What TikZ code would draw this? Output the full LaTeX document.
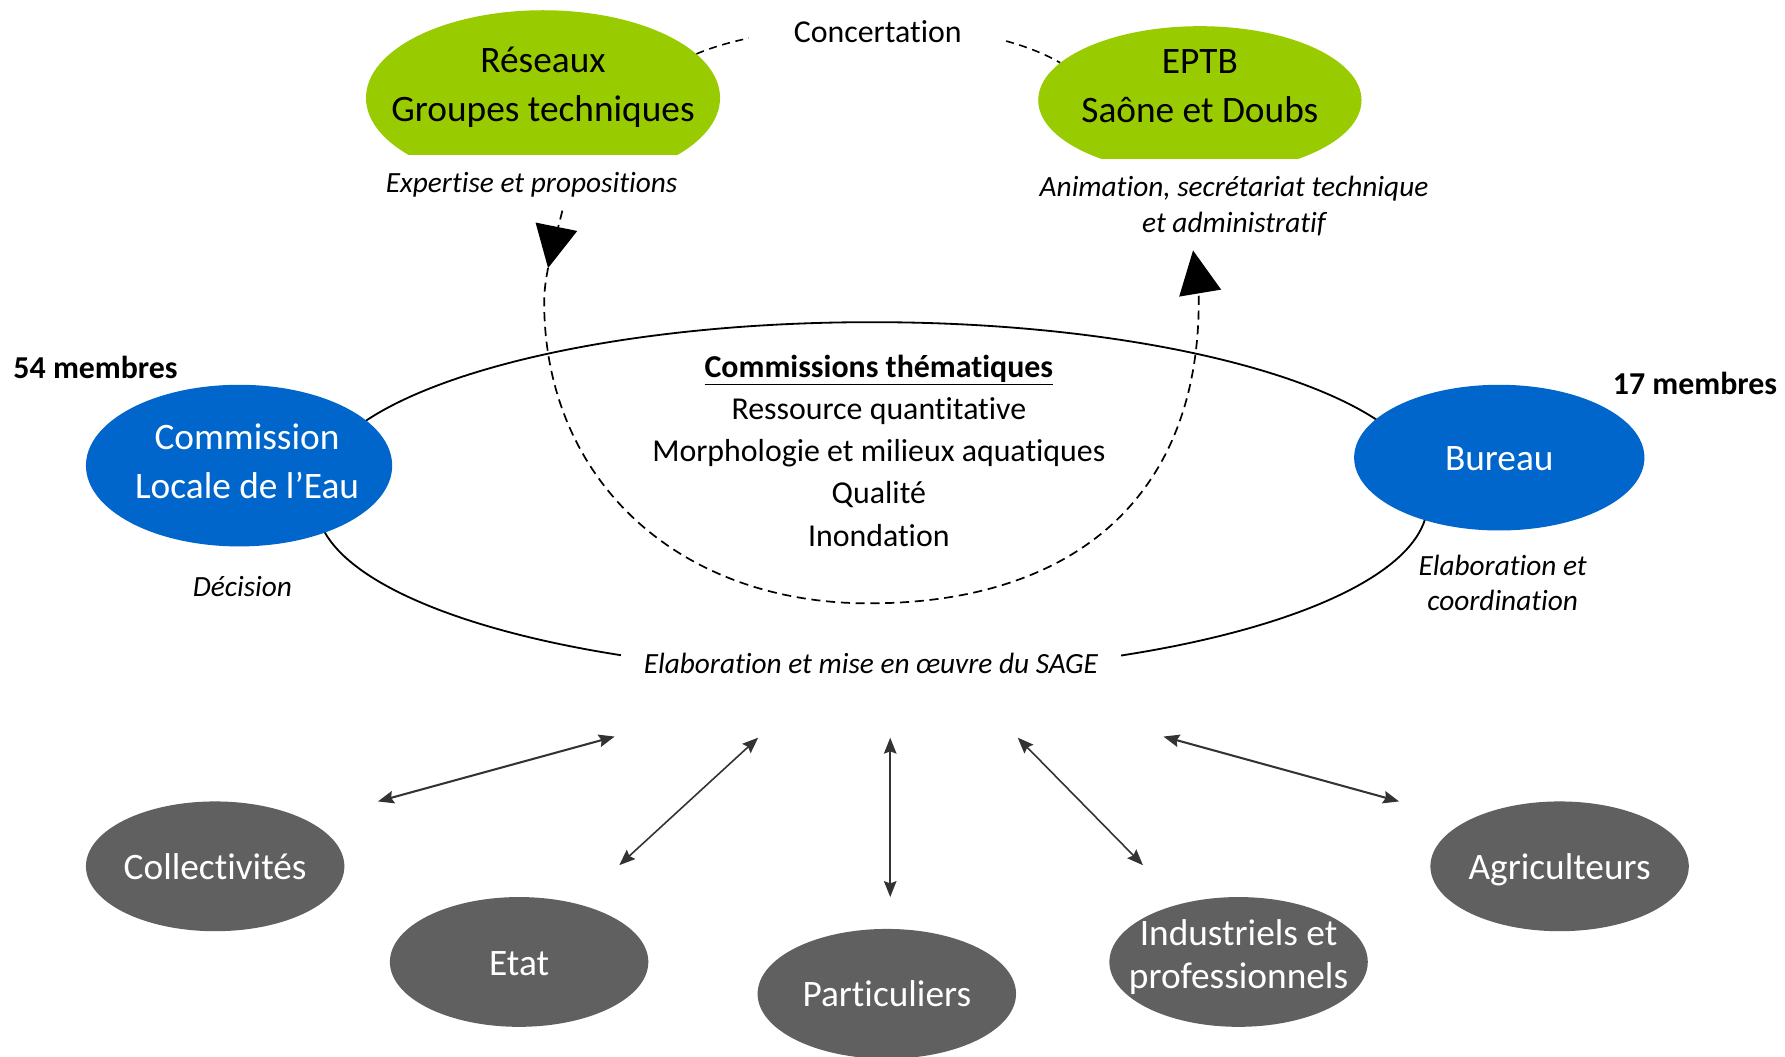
\documentclass[tikz,border=0pt]{standalone}
\usepackage{fontspec}
\setmainfont{Carlito}[RawFeature={-liga;-clig}]
\usetikzlibrary{shapes.geometric,arrows.meta,decorations.markings}
\definecolor{vert}{RGB}{153,204,0}
\definecolor{bleu}{RGB}{0,102,204}
\definecolor{gris}{RGB}{96,96,96}
\definecolor{fleche}{RGB}{51,51,51}
\begin{document}
\begin{tikzpicture}[x=1pt,y=-1pt,
  bigtxt/.style={font=\fontsize{32.8}{43}\selectfont, align=center, inner sep=0pt},
  midtxt/.style={font=\fontsize{28}{37}\selectfont, align=center, inner sep=0pt},
  ittxt/.style={font=\fontsize{25.75}{31}\selectfont\itshape, align=center, inner sep=0pt},
  boldtxt/.style={font=\fontsize{28}{34}\selectfont\bfseries, inner sep=0pt},
  greenell/.style={ellipse, fill=vert, inner sep=0pt},
  blueell/.style={ellipse, fill=bleu, inner sep=0pt},
  grayell/.style={ellipse, fill=gris, inner sep=0pt, minimum width=227, minimum height=114},
  graylbl/.style={text=white, font=\fontsize{32.8}{38}\selectfont, align=center, inner sep=0pt,
    text height=23pt, text depth=0pt},
  dashline/.style={line width=1.5pt, dash pattern=on 8pt off 5pt},
  twoway/.style={draw=fleche, {Stealth[length=14pt,width=11pt,inset=2pt]}-{Stealth[length=14pt,width=11pt,inset=2pt]}},
]
\useasboundingbox[fill=white] (0,0) rectangle (1568,928);

% cycle: upper and lower arcs between the two blue ellipses
\coordinate (topL) at (278,430.5);
\coordinate (botL) at (278,441.7);
\draw[line width=1.6pt] (topL) arc[start angle=180, end angle=360, x radius=488, y radius=147.5];
\draw[line width=1.6pt] (botL) arc[start angle=180, end angle=0, x radius=488, y radius=150];
\node[ittxt, fill=white, inner xsep=20pt, inner ysep=9pt] (sage) at (765,582.6) {Elaboration et mise en œuvre du SAGE};

% green ellipses, cut at the bottom
\begin{scope}
  \clip (300,0) rectangle (660,136);
  \node[greenell, minimum width=311, minimum height=154] (res) at (477,86) {};
\end{scope}
\begin{scope}
  \clip (890,0) rectangle (1220,139);
  \node[greenell, minimum width=284, minimum height=130] (eptb) at (1054,88) {};
\end{scope}
\node[bigtxt] (restxt) at (477,77) {Réseaux\\Groupes techniques};
\node[bigtxt] (eptbtxt) at (1054,76) {EPTB\\Saône et Doubs};

% concertation
\draw[line width=1.4pt, dash pattern=on 7pt off 5pt] (res.16) .. controls (680,18) and (850,8) .. (eptb.165);
\node[midtxt, fill=white, minimum width=226, minimum height=40] (conc) at (771,28) {Concertation};

% labels under green ellipses
\node[ittxt] (expert) at (467,162) {Expertise et propositions};
\node[ittxt] (anim) at (1084,181) {Animation, secrétariat technique\\et administratif};

% dashed U arrow
\coordinate (expA) at (494,185);
\coordinate (animB) at (1048,220);
\draw[dashline, -{Triangle[length=38pt,width=37pt]},
  decoration={markings, mark=at position 52pt with {\arrow{Triangle[length=37pt,width=37pt]}}},
  postaction={decorate}]
  (expA) .. controls (488,210) and (478,240) .. (478,265)
  .. controls (478,421) and (595,530) .. (763,530)
  .. controls (947,530) and (1053,433) .. (1053,265)
  .. controls (1053,245) and (1050,232) .. (animB);

% blue ellipses
\node[blueell, minimum width=269, minimum height=142] (cle) at (210,409) {};
\node[bigtxt, text=white] (cletxt) at (217,405) {Commission\\Locale de l’Eau};
\node[blueell, minimum width=255, minimum height=128,
  label={[graylbl]center:Bureau}] (bureau) at (1317,402) {};

\node[boldtxt] (m54) at (84,323) {54 membres};
\node[boldtxt] (m17) at (1489,337) {17 membres};
\node[ittxt] (decis) at (213,515) {Décision};
\node[ittxt] (coord) at (1320,512) {Elaboration et\\coordination};

% commissions
\node[midtxt] (comm) at (772,396) {\textbf{\underline{Commissions thématiques}}\\Ressource quantitative\\Morphologie et milieux aquatiques\\Qualité\\Inondation};

% acteurs
\node[grayell, label={[graylbl]center:Collectivités}] (coll) at (189,761) {};
\node[grayell, label={[graylbl]center:Etat}] (etat) at (456,845) {};
\node[grayell, label={[graylbl]center:Particuliers}] (part) at (779,873) {};
\node[grayell, label={[graylbl, text height=, text depth=, yshift=4pt]center:Industriels et\\professionnels}] (indus) at (1088,845) {};
\node[grayell, label={[graylbl]center:Agriculteurs}] (agri) at (1370,761) {};

% two-way arrows
\coordinate (a1s) at (332,704); \coordinate (a1e) at (540,647);
\coordinate (a2s) at (544,760); \coordinate (a2e) at (666,648);
\coordinate (a3s) at (782,788); \coordinate (a3e) at (782,648);
\coordinate (a4s) at (1004,760); \coordinate (a4e) at (894,648);
\coordinate (a5s) at (1229,704); \coordinate (a5e) at (1022,647);
\draw[twoway, line width=1.8pt] (a1s) -- (a1e);
\draw[twoway, line width=1.4pt] (a2s) -- (a2e);
\draw[twoway, line width=1.4pt] (a3s) -- (a3e);
\draw[twoway, line width=1.4pt] (a4s) -- (a4e);
\draw[twoway, line width=1.8pt] (a5s) -- (a5e);
\end{tikzpicture}
\end{document}
